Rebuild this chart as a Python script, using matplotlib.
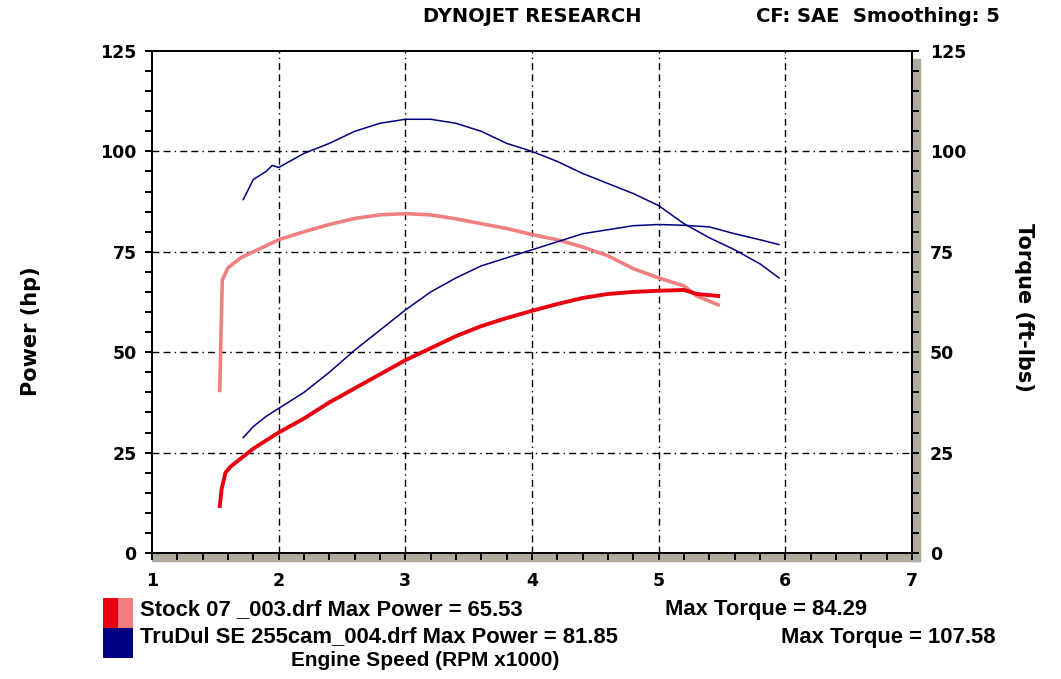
import matplotlib
matplotlib.use("Agg")
import matplotlib.pyplot as plt
from matplotlib.patches import Rectangle

# engine speed (RPM x1000) and readings
stock_rpm = [1.535, 1.55, 1.58, 1.62, 1.7, 1.8, 1.9, 2.0, 2.2, 2.4, 2.6, 2.8, 3.0, 3.2,
             3.4, 3.6, 3.8, 4.0, 4.2, 4.4, 4.6, 4.8, 5.0, 5.2, 5.3, 5.47]
stock_power = [11.7, 16, 20, 21.5, 23.5, 26, 28, 30, 33.5, 37.5, 41, 44.5, 48, 51,
               54, 56.5, 58.5, 60.3, 62, 63.5, 64.5, 65, 65.3, 65.5, 64.5, 64]
stock_rpm_t = [1.535, 1.545, 1.555, 1.6, 1.7, 1.8, 1.9, 2.0, 2.2, 2.4, 2.6, 2.8, 3.0, 3.2,
               3.4, 3.6, 3.8, 4.0, 4.2, 4.4, 4.6, 4.8, 5.0, 5.2, 5.3, 5.47]
stock_torque = [40.5, 55, 68, 71, 73.5, 75, 76.5, 78, 80, 81.8, 83.3, 84.2, 84.5, 84.2,
                83.2, 82, 80.8, 79.3, 78, 76.2, 74, 70.8, 68.5, 66.5, 64, 61.8]

cam_rpm = [1.72, 1.8, 1.9, 1.95, 2.0, 2.2, 2.4, 2.6, 2.8, 3.0, 3.2, 3.4, 3.6, 3.8, 4.0,
           4.2, 4.4, 4.6, 4.8, 5.0, 5.2, 5.4, 5.6, 5.8, 5.95]
cam_power = [28.7, 31.5, 34, 35, 36, 40, 45, 50.5, 55.5, 60.5, 65, 68.5, 71.5, 73.5, 75.5,
             77.5, 79.5, 80.5, 81.5, 81.8, 81.6, 81.2, 79.5, 78, 76.8]
cam_torque = [88, 93, 95, 96.5, 96, 99.5, 102, 105, 107, 108, 108, 107, 105, 102, 100,
              97.5, 94.5, 92, 89.5, 86.5, 82, 78.5, 75.5, 72, 68.5]

x_ticks = [1, 2, 3, 4, 5, 6, 7]
y_ticks = [0, 25, 50, 75, 100, 125]

RED = '#e80010'
PINK = '#f08080'
NAVY = '#000080'
GREY = '#b0ab9c'

fig = plt.figure(figsize=(10.61, 6.79), dpi=100)
ax = fig.add_axes([152/1061, 1 - 553/679, 760/1061, 502/679])
ax2 = ax.twinx()

ax.set_xlim(1, 7)
ax.set_ylim(0, 125)
ax2.set_ylim(0, 125)

# grid
for gx in x_ticks[1:-1]:
    ax.axvline(gx, color='black', lw=1.0, dashes=(5, 3, 5, 3, 1, 3), zorder=1)
for gy in y_ticks[1:-1]:
    ax.axhline(gy, color='black', lw=1.0, dashes=(5, 3, 5, 3, 1, 3), zorder=1)

ax.plot(stock_rpm_t, stock_torque, color=PINK, lw=2.6, zorder=3)
ax.plot(stock_rpm, stock_power, color=RED, lw=2.8, zorder=4)
ax.plot(cam_rpm, cam_torque, color=NAVY, lw=1.1, zorder=5)
ax.plot(cam_rpm, cam_power, color=NAVY, lw=1.1, zorder=5)

# 3D-ish grey edge on the right and bottom
ax.add_patch(Rectangle((1.0, -0.016), 0.0105, 1.0, transform=ax.transAxes,
                       color=GREY, clip_on=False, zorder=0))
ax.add_patch(Rectangle((0.0, -0.016), 1.0105, 0.016, transform=ax.transAxes,
                       color=GREY, clip_on=False, zorder=0))

for side in ['left', 'top', 'right', 'bottom']:
    ax.spines[side].set_linewidth(1.4)
    ax2.spines[side].set_linewidth(1.4)

ax.set_xticks(x_ticks)
ax.set_xticks([1 + i * 0.2 for i in range(31)], minor=True)
ax.set_yticks(y_ticks)
ax.set_yticks(list(range(0, 126, 5)), minor=True)
ax2.set_yticks(y_ticks)
ax2.set_yticks(list(range(0, 126, 5)), minor=True)

tick_font = dict(family='DejaVu Sans', weight='bold', size=12.5)
ax.tick_params(axis='both', which='both', direction='out', length=5, width=1.4)
ax.tick_params(axis='x', pad=9)
ax.tick_params(axis='y', pad=6)
ax2.tick_params(axis='y', which='both', direction='out', length=5, width=1.4, pad=8)
ax.set_xticklabels([str(v) for v in x_ticks], **tick_font)
ax.set_yticklabels([str(v) for v in y_ticks], **tick_font)
ax2.set_yticklabels([str(v) for v in y_ticks], **tick_font)

lab_font = dict(family='DejaVu Sans', weight='bold', size=15)
fig.text(31/1061, 1 - 331/679, 'Power (hp)', rotation=90, ha='center', va='center', **lab_font)
fig.text(1024/1061, 1 - 307/679, 'Torque (ft-lbs)', rotation=-90, ha='center', va='center', **lab_font)

head_font = dict(family='DejaVu Sans', weight='bold', size=14)
fig.text(532/1061, 1 - 17/679, 'DYNOJET RESEARCH', ha='center', va='center', **head_font)
fig.text(878/1061, 1 - 17/679, 'CF: SAE  Smoothing: 5', ha='center', va='center', **head_font)

# legend block
fig.patches.append(Rectangle((103/1061, 1 - 628/679), 15/1061, 30/679, transform=fig.transFigure,
                             facecolor=RED, edgecolor='none'))
fig.patches.append(Rectangle((118/1061, 1 - 628/679), 15/1061, 30/679, transform=fig.transFigure,
                             facecolor=PINK, edgecolor='none'))
fig.patches.append(Rectangle((103/1061, 1 - 658/679), 30/1061, 30/679, transform=fig.transFigure,
                             facecolor=NAVY, edgecolor='none'))

leg_font = dict(family='Liberation Sans', weight='bold', size=15.8)
fig.text(140/1061, 1 - 610/679, 'Stock 07 _003.drf Max Power = 65.53', ha='left', va='center', **leg_font)
fig.text(665/1061, 1 - 610/679, 'Max Torque = 84.29', ha='left', va='center', **leg_font)
fig.text(140/1061, 1 - 637/679, 'TruDul SE 255cam_004.drf Max Power = 81.85', ha='left', va='center', **leg_font)
fig.text(781/1061, 1 - 637/679, 'Max Torque = 107.58', ha='left', va='center', **leg_font)
fig.text(425/1061, 1 - 661/679, 'Engine Speed (RPM x1000)', ha='center', va='center',
         family='Liberation Sans', weight='bold', size=15)

fig.savefig('out.png', dpi=100)
